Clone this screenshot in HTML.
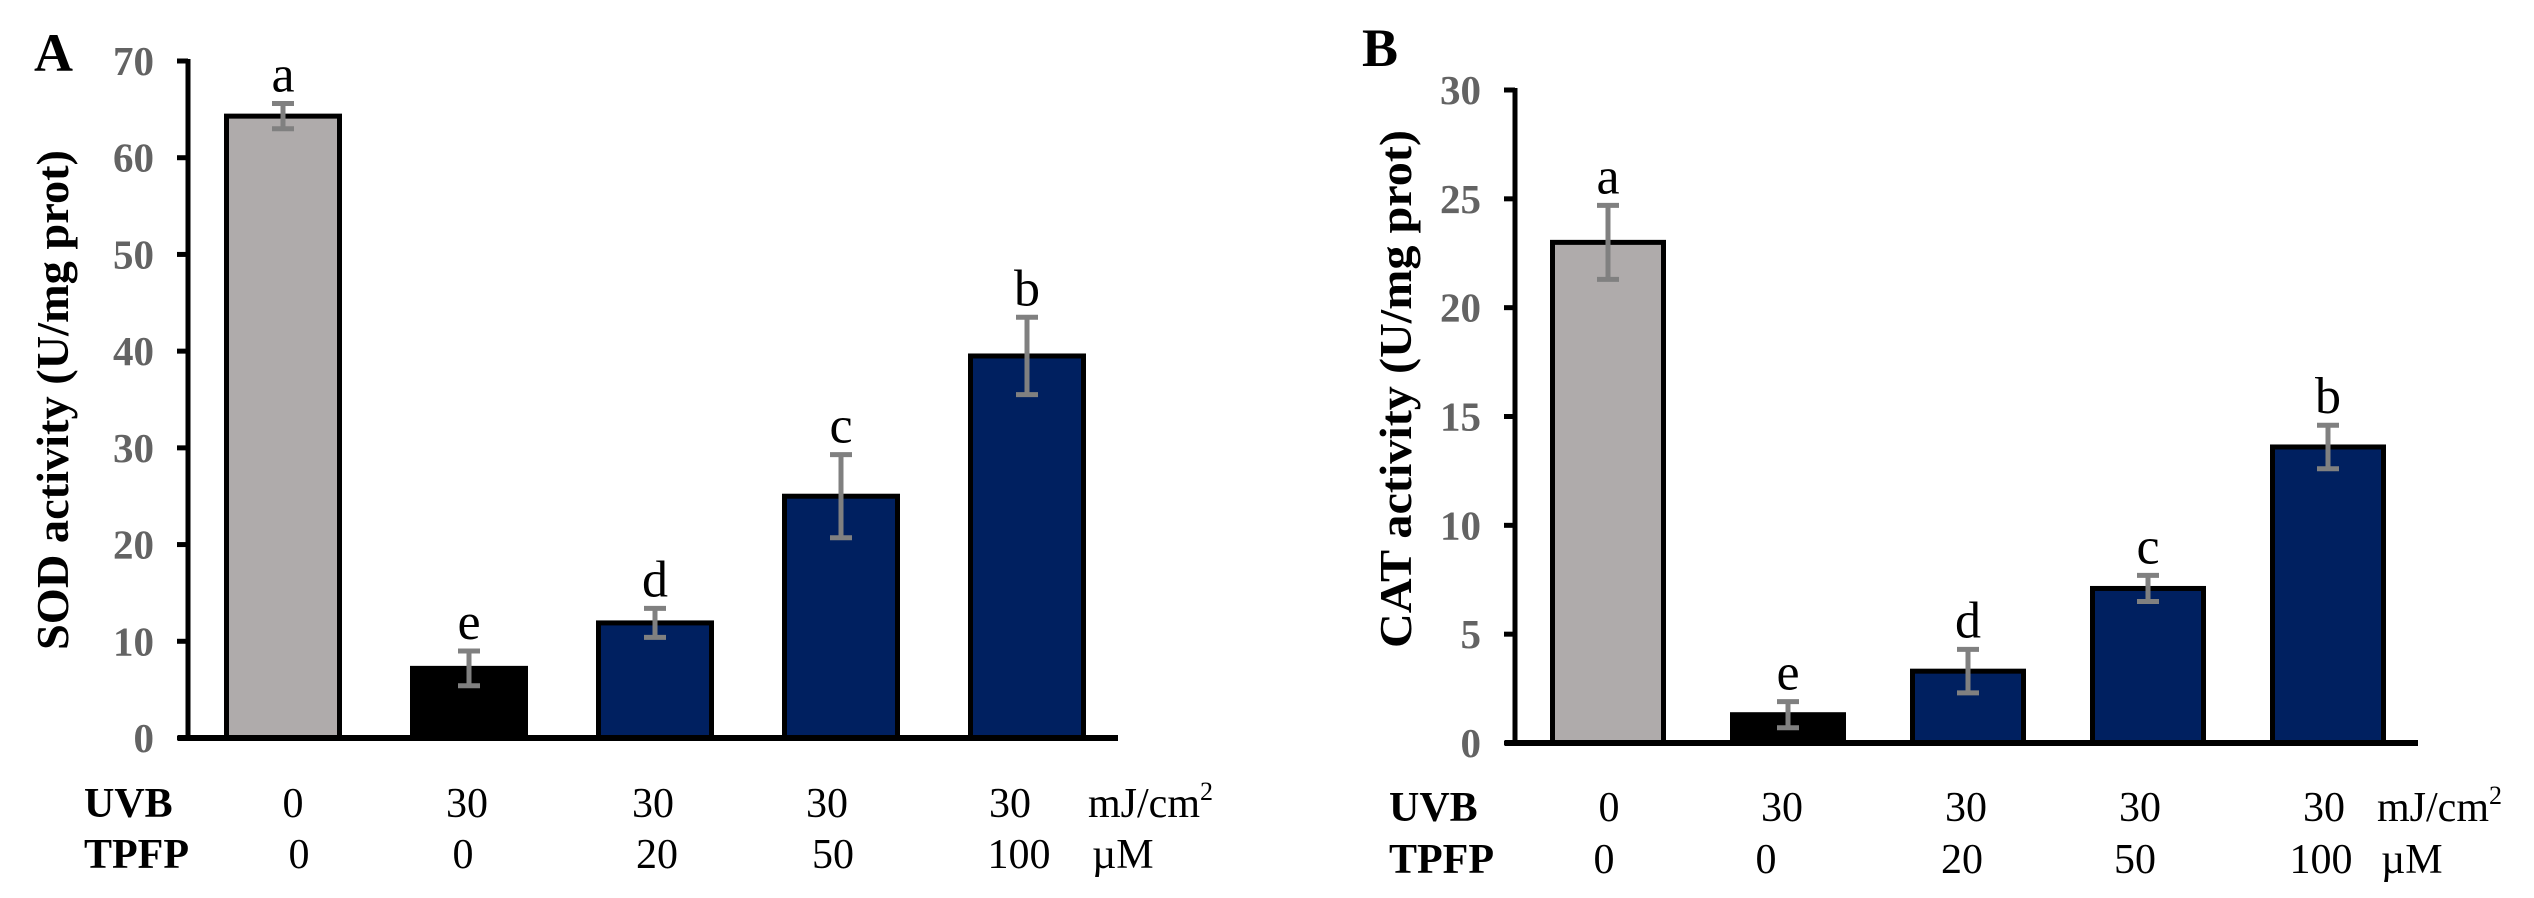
<!DOCTYPE html>
<html><head><meta charset="utf-8"><style>
html,body{margin:0;padding:0;background:#fff;}
svg{display:block;font-family:"Liberation Serif",serif;}
</style></head><body>
<svg id="chart" width="2534" height="898" viewBox="0 0 2534 898" xmlns="http://www.w3.org/2000/svg"></svg>
<script>
const categories = ["ctrl","uvb","tpfp20","tpfp50","tpfp100"];
const uvbLabels = ["0","30","30","30","30"];
const tpfpLabels = ["0","0","20","50","100"];
const sigLetters = ["a","e","d","c","b"];
const sodValues = [64.3, 7.2, 11.9, 25.0, 39.5];
const sodErrors = [1.3, 1.8, 1.5, 4.3, 4.0];
const catValues = [23.0, 1.3, 3.3, 7.1, 13.6];
const catErrors = [1.7, 0.6, 1.0, 0.6, 1.0];
const sodTicks = [0,10,20,30,40,50,60,70];
const catTicks = [0,5,10,15,20,25,30];
const barColors = ["#AFABAB","#000000","#002060","#002060","#002060"];

const NS="http://www.w3.org/2000/svg";
const svg=document.getElementById('chart');
function mk(tag,attrs,parent,text){const e=document.createElementNS(NS,tag);for(const k in attrs)e.setAttribute(k,attrs[k]);if(text!==undefined)e.textContent=text;(parent||svg).appendChild(e);return e;}

function panel(cfg){
  const g=mk('g',{});
  
  
  const y=v=>cfg.y0-(v/cfg.max)*(cfg.y0-cfg.yTop);
  const x=i=>cfg.x0+i*cfg.step;
  // panel letter
  const pl=mk('text',{x:cfg.letterX,y:cfg.letterY,'font-size':54,'font-weight':'bold',fill:'#000'},g,cfg.letter);
  
  
  // y title
  const t=mk('text',{x:0,y:0,'font-size':46,'font-weight':'bold','text-anchor':'middle',fill:'#000',transform:`translate(${cfg.titleX},${cfg.titleY}) rotate(-90)`,textLength:cfg.titleLen,lengthAdjust:'spacingAndGlyphs'},g,cfg.title);
  
  
  // ticks
  cfg.ticks.forEach(v=>{
    const tk=mk('line',{x1:cfg.axisX-11,x2:cfg.axisX,y1:y(v),y2:y(v),stroke:'#000','stroke-width':5},g);
    
    
    const tl=mk('text',{x:cfg.axisX-34,y:y(v)+14,'font-size':41,'font-weight':'bold','text-anchor':'end',fill:'#636363'},g,String(v));
    
    
  });
  const ya=mk('line',{x1:cfg.axisX,x2:cfg.axisX,y1:cfg.yTop-2,y2:cfg.y0,stroke:'#000','stroke-width':5},g);
  
  
  // bars
  cfg.values.forEach((v,i)=>{
    const cx=x(i);
    const b=mk('rect',{x:cx-cfg.bw/2,y:y(v),width:cfg.bw,height:cfg.y0-y(v),fill:barColors[i],stroke:'#000','stroke-width':5},g);
    
    
    const e=cfg.errors[i];
    const eg=mk('g',{stroke:'#808080','stroke-width':5},g);
    
    
    mk('line',{x1:cx,x2:cx,y1:y(v+e),y2:y(v-e)},eg);
    mk('line',{x1:cx-11,x2:cx+11,y1:y(v+e),y2:y(v+e)},eg);
    mk('line',{x1:cx-11,x2:cx+11,y1:y(v-e),y2:y(v-e)},eg);
    const s=mk('text',{x:cx,y:y(v+e)-12,'font-size':52,'text-anchor':'middle',fill:'#000'},g,sigLetters[i]);
    
    
  });
  const xa=mk('line',{x1:cfg.axisX-10,x2:cfg.xEnd,y1:cfg.y0,y2:cfg.y0,stroke:'#000','stroke-width':6},g);
  
  
  // rows
  const r1=mk('text',{x:cfg.rowX,y:cfg.row1Y,'font-size':42,'font-weight':'bold',fill:'#000'},g,'UVB');
  
  
  const r2=mk('text',{x:cfg.rowX,y:cfg.row2Y,'font-size':42,'font-weight':'bold',fill:'#000'},g,'TPFP');
  
  
  uvbLabels.forEach((l,i)=>{
    const e=mk('text',{x:cfg.labX[i],y:cfg.row1Y,'font-size':42,'text-anchor':'middle',fill:'#000'},g,l);
    
    
  });
  tpfpLabels.forEach((l,i)=>{
    const e=mk('text',{x:cfg.labX2[i],y:cfg.row2Y,'font-size':42,'text-anchor':'middle',fill:'#000'},g,l);
    
    
  });
  const u1=mk('text',{x:cfg.unitX,y:cfg.row1Y,'font-size':42,fill:'#000'},g);
  
  
  u1.textContent='mJ/cm';
  mk('tspan',{'font-size':26,dy:-17},u1,'2');
  const u2=mk('text',{x:cfg.unitX+4,y:cfg.row2Y,'font-size':42,fill:'#000'},g,'µM');
  
  
}

panel({name:'panel-a-sod',letter:'A',letterX:34,letterY:71,title:'SOD activity (U/mg prot)',titleX:68,titleY:400,titleLen:500,
  axisX:188,yTop:61,y0:738,max:70,ticks:sodTicks,values:sodValues,errors:sodErrors,
  x0:283,step:186,bw:113,xEnd:1118,rowX:84,row1Y:817,row2Y:868,
  labX:[293,467,653,827,1010],labX2:[299,463,657,833,1019],unitX:1088});
panel({name:'panel-b-cat',letter:'B',letterX:1362,letterY:66,title:'CAT activity (U/mg prot)',titleX:1411,titleY:389,titleLen:518,
  axisX:1515,yTop:90,y0:743,max:30,ticks:catTicks,values:catValues,errors:catErrors,
  x0:1608,step:180,bw:111,xEnd:2418,rowX:1389,row1Y:821,row2Y:873,
  labX:[1609,1782,1966,2140,2324],labX2:[1604,1766,1962,2135,2321],unitX:2377});
</script>
</body></html>
